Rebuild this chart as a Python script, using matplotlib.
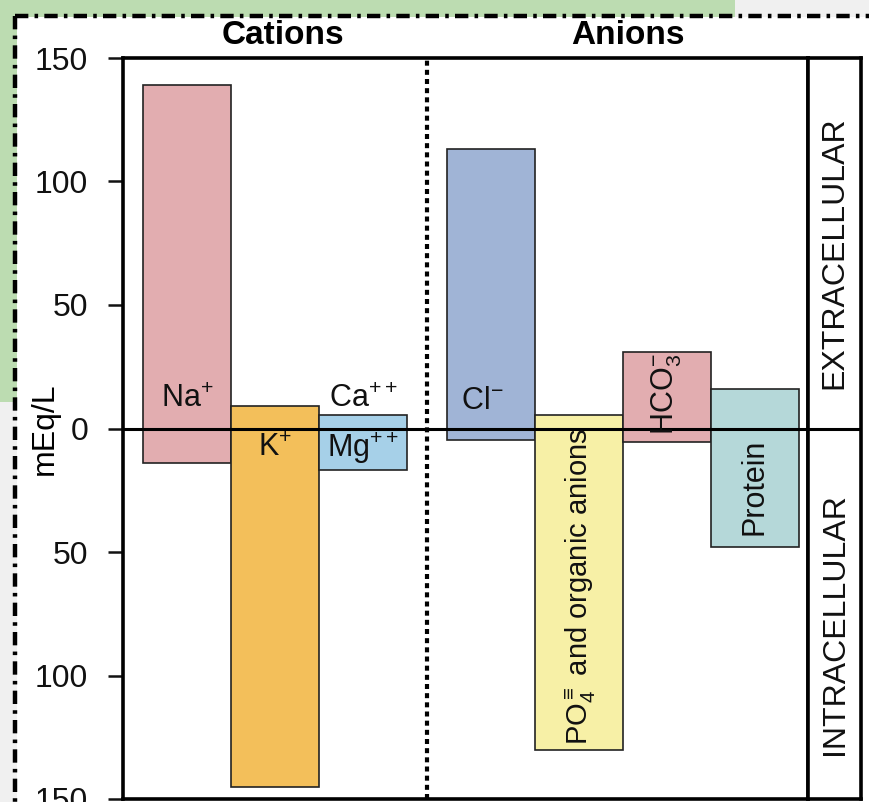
import numpy as np
import matplotlib
matplotlib.use("Agg")
import matplotlib.pyplot as plt
from matplotlib.patches import Rectangle
from matplotlib.lines import Line2D

# --- data (mEq/L) ---
ions = ["Na", "K", "CaMg", "Cl", "PO4", "HCO3", "Protein"]
is_anion = [False, False, False, True, True, True, True]
extracellular = [139, 9, 5.5, 113, 5.5, 31, 16]
intracellular = [14, 145, 17, 4.5, 130, 5.5, 48]
colors = ["#e2adb0", "#f3bf5a", "#a6d0e8", "#a0b4d6", "#f7f0a6", "#e2adb0", "#b5d8d9"]
yticks = [-150, -100, -50, 0, 50, 100, 150]

plt.rcParams["font.family"] = ["Liberation Sans", "DejaVu Sans"]
plt.rcParams["mathtext.fontset"] = "custom"
plt.rcParams["mathtext.rm"] = "Liberation Sans"
plt.rcParams["mathtext.it"] = "Liberation Sans"
plt.rcParams["mathtext.bf"] = "Liberation Sans:bold"
plt.rcParams["mathtext.default"] = "regular"

W, H = 870, 802
fig = plt.figure(figsize=(W / 100, H / 100), dpi=100)

# --- screenshot background: green / grey strips and dash-dot border ---
def px_rect(x0, y0, x1, y1, color):
    fig.patches.append(Rectangle((x0 / W, 1 - y1 / H), (x1 - x0) / W, (y1 - y0) / H,
                                 transform=fig.transFigure, facecolor=color,
                                 edgecolor="none", zorder=0))

px_rect(0, 0, 735, 17, "#bcdcb1")
px_rect(735, 0, W, 17, "#f0f0f0")
px_rect(0, 0, 17, 402, "#bcdcb1")
px_rect(0, 402, 17, H, "#f0f0f0")
dashdot = (0, (3.0, 1.4, 0.8, 1.4))
fig.lines.append(Line2D([15 / W, 1], [1 - 16 / H, 1 - 16 / H], transform=fig.transFigure,
                        color="black", lw=3.2, linestyle=dashdot, solid_capstyle="butt"))
fig.lines.append(Line2D([15 / W, 15 / W], [1 - 16 / H, 0], transform=fig.transFigure,
                        color="black", lw=3.2, linestyle=dashdot, solid_capstyle="butt"))

# --- main axes ---
ax = fig.add_axes([123 / W, 3 / H, 685 / W, 741 / H])
gap = 0.45
xpos = np.arange(len(ions)) + np.where(is_anion, gap, 0.0)
extra = np.array(extracellular)
intra = np.array(intracellular)
ax.bar(xpos, extra + intra, bottom=-intra, width=1.0, color=colors,
       edgecolor="#222222", linewidth=1.2, zorder=2)

ax.axhline(0, color="black", lw=2.2, zorder=3)
ax.axvline(2.5 + gap / 2, color="black", lw=3, linestyle=(0, (1.2, 1.0)), zorder=3)

ax.set_xlim(-0.727, 7.057)
ax.set_ylim(-150, 150)
ax.set_xticks([])
ax.set_yticks(yticks)
ax.set_yticklabels([str(abs(v)) for v in yticks])
ax.tick_params(axis="y", length=11, width=1.8, labelsize=23, pad=14, colors="#111111")
for s in ax.spines.values():
    s.set_linewidth(2.6)
ax.set_ylabel("mEq/L", fontsize=23)
ax.yaxis.set_label_coords(-0.092, 0.5)

# bar labels
lab = dict(ha="center", va="center", zorder=4, color="#111111")
ax.text(xpos[0], 12, "Na$^{+}$", fontsize=22, **lab)
ax.text(xpos[1], -8, "K$^{+}$", fontsize=22, **lab)
ax.text(xpos[2], 12, "Ca$^{++}$", fontsize=22, **lab)
ax.text(xpos[2], -8, "Mg$^{++}$", fontsize=22, **lab)
ax.text(xpos[3] - 0.09, 11, "Cl$^{-}$", fontsize=22, **lab)
ax.text(xpos[4] + 0.03, -128, r"PO$^{\equiv}_{4}$ and organic anions", fontsize=21,
        rotation=90, ha="center", va="bottom", zorder=4, color="#111111")
ax.text(xpos[5], 14, "HCO$_{3}^{-}$", fontsize=22, rotation=90, **lab)
ax.text(xpos[6], -23.5, "Protein", fontsize=22, rotation=90, **lab)

# group titles
fig.text(283 / W, 1 - 36 / H, "Cations", fontsize=24, fontweight="bold", ha="center", va="center")
fig.text(628 / W, 1 - 36 / H, "Anions", fontsize=24, fontweight="bold", ha="center", va="center")

# --- side panel ---
ax2 = fig.add_axes([808 / W, 3 / H, 53 / W, 741 / H])
ax2.set_xlim(0, 1)
ax2.set_ylim(-150, 150)
ax2.set_xticks([])
ax2.set_yticks([])
for s in ax2.spines.values():
    s.set_linewidth(2.6)
ax2.axhline(0, color="black", lw=2.2)
ax2.text(0.5, 71, "EXTRACELLULAR", rotation=90, fontsize=23, ha="center", va="center", color="#111111")
ax2.text(0.5, -79, "INTRACELLULAR", rotation=90, fontsize=23, ha="center", va="center", color="#111111")

fig.savefig("out.png", dpi=100)
